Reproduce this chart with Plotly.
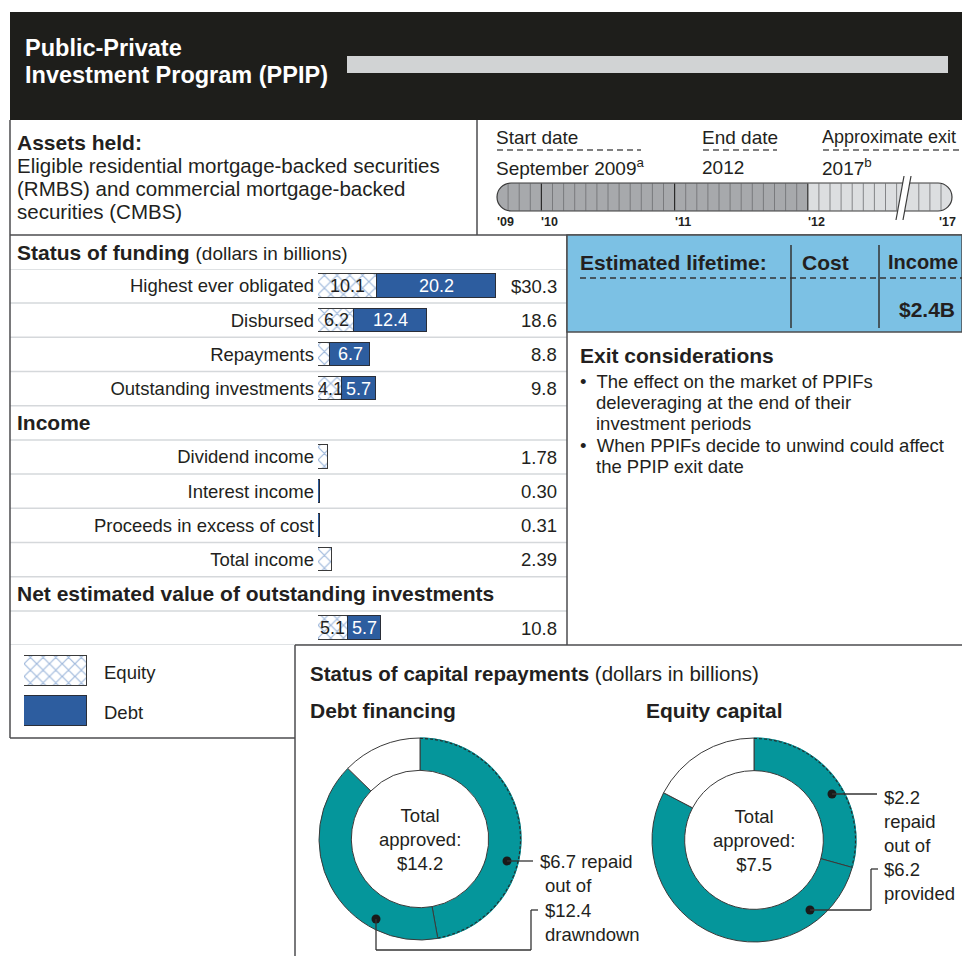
import math
import plotly.graph_objects as go

# ---------------- data ----------------
funding_labels = ["Highest ever obligated", "Disbursed", "Repayments", "Outstanding investments"]
funding_equity = [10.1, 6.2, 2.1, 4.1]
funding_debt = [20.2, 12.4, 6.7, 5.7]
funding_equity_text = ["10.1", "6.2", None, "4.1"]
funding_debt_text = ["20.2", "12.4", "6.7", "5.7"]
funding_totals = ["$30.3", "18.6", "8.8", "9.8"]

income_labels = ["Dividend income", "Interest income", "Proceeds in excess of cost", "Total income"]
income_equity = [1.78, None, None, 2.39]
income_debt = [None, 0.30, 0.31, None]
income_totals = ["1.78", "0.30", "0.31", "2.39"]

net_equity = [5.1]
net_debt = [5.7]
net_totals = ["10.8"]

debt_approved, debt_drawn, debt_repaid = 14.2, 12.4, 6.7
equity_approved, equity_provided, equity_repaid = 7.5, 6.2, 2.2

timeline_year_labels = ["'09", "'10", "'11", "'12", "'17"]
timeline_year_slots = [0, 4, 16, 28, 41]   # month slots from Sept 2009

# ---------------- style ----------------
FONT = "Liberation Sans, Arial, sans-serif"
TXT = "#231f20"
DEBT = "#2d5d9f"
HATCH = "#3f72b8"
TEAL = "#05969b"
LINE = "#4d4d4f"
LIGHT = "#d5d8db"
W, H = 962, 956
FS = 18.5     # body text
FB = 21       # bold headers

fig = go.Figure()
shapes, annotations = [], []


def txt(x, y, s, size=FS, bold=False, color=TXT, anchor="left", xref="x", yref="y"):
    annotations.append(dict(x=x, y=y, xref=xref, yref=yref, text=("<b>%s</b>" % s) if bold else s,
                            showarrow=False, xanchor=anchor, yanchor="middle",
                            font=dict(size=size, color=color, family=FONT)))


def rect(x0, y0, x1, y1, fill, line=None, lw=0, xref="x", yref="y"):
    shapes.append(dict(type="rect", x0=x0, y0=y0, x1=x1, y1=y1, xref=xref, yref=yref,
                       fillcolor=fill, line=dict(color=line or fill, width=lw), layer="above"))


def ln(x0, y0, x1, y1, color=LINE, w=1.5, dash="solid", xref="x", yref="y"):
    shapes.append(dict(type="line", x0=x0, y0=y0, x1=x1, y1=y1, xref=xref, yref=yref,
                       line=dict(color=color, width=w, dash=dash), layer="above"))


# pixel overlay axis (x / y)
fig.add_trace(go.Scatter(x=[0], y=[0], xaxis="x", yaxis="y", mode="markers",
                         marker=dict(opacity=0, size=1), showlegend=False, hoverinfo="skip"))

# ---------------- funding bar chart (x2 / y2) ----------------
rows = [0, 1, 2, 3] + [5, 6, 7, 8] + [10]
x_eq = funding_equity + income_equity + net_equity
t_eq = funding_equity_text + [None] * 4 + [str(v) for v in net_equity]
x_db = funding_debt + income_debt + net_debt
t_db = funding_debt_text + [None] * 4 + [str(v) for v in net_debt]

hatch = dict(shape="x", fgcolor=HATCH, bgcolor="white", size=9, solidity=0.25)

fig.add_trace(go.Bar(
    y=rows, x=x_eq, orientation="h", xaxis="x2", yaxis="y2", width=0.68,
    marker=dict(color="white", line=dict(color="#3a3a3a", width=1), pattern=hatch),
    showlegend=False, hoverinfo="skip"))
fig.add_trace(go.Bar(
    y=rows, x=x_db, orientation="h", xaxis="x2", yaxis="y2", width=0.68,
    marker=dict(color=DEBT, line=dict(color="#2a2e38", width=1)),
    showlegend=False, hoverinfo="skip"))

# value labels centred in each segment, positioned through the x2/y2 axes
for r, e, d, te, td in zip(rows, x_eq, x_db, t_eq, t_db):
    e0 = e or 0
    if te:
        annotations.append(dict(x=e0 / 2, y=r, xref="x2", yref="y2", text=te, showarrow=False,
                                xanchor="center", yanchor="middle",
                                font=dict(size=18, color=TXT, family=FONT)))
    if td:
        annotations.append(dict(x=e0 + d / 2, y=r, xref="x2", yref="y2", text=td, showarrow=False,
                                xanchor="center", yanchor="middle",
                                font=dict(size=18, color="white", family=FONT)))

row_vals = [0, 1, 2, 3, 5, 6, 7, 8]
row_text = funding_labels + income_labels
totals = funding_totals + income_totals + net_totals
for r, t in zip(rows, totals):
    txt(559 / W, r, t, anchor="right", xref="paper", yref="y2")

# row separators
for i in range(12):
    ln(10, i - 0.5, 567, i - 0.5, color=LIGHT, w=1.5, yref="y2")

txt(15, 4, "Income", size=FB, bold=True, xref="x", yref="y2")
txt(15, 9, "Net estimated value of outstanding investments", size=FB, bold=True, xref="x", yref="y2")
txt(15, 252, "<b>Status of funding</b> <span style='font-size:19px'>(dollars in billions)</span>", size=FB)

# ---------------- legend swatches (x3 / y3) ----------------
fig.add_trace(go.Bar(y=[0], x=[1], orientation="h", xaxis="x3", yaxis="y3", width=0.75,
                     marker=dict(color="white", line=dict(color="#3a3a3a", width=1), pattern=hatch),
                     showlegend=False, hoverinfo="skip"))
fig.add_trace(go.Bar(y=[1], x=[1], orientation="h", xaxis="x3", yaxis="y3", width=0.75,
                     marker=dict(color=DEBT, line=dict(color="#2a2e38", width=1)),
                     showlegend=False, hoverinfo="skip"))
txt(102, 672, "Equity")
txt(102, 712, "Debt")

# ---------------- donuts ----------------
PIES = [(420, 839, 101, debt_approved, debt_drawn, debt_repaid),
        (754, 840, 102, equity_approved, equity_provided, equity_repaid)]


def dom(cx, cy, r):
    return dict(x=[(cx - r) / W, (cx + r) / W], y=[1 - (cy + r) / H, 1 - (cy - r) / H])


for cx, cy, rad, total, drawn, repaid in PIES:
    fig.add_trace(go.Pie(values=[repaid, drawn - repaid, total - drawn],
                         marker=dict(colors=[TEAL, TEAL, "white"], line=dict(color="#3a3a3a", width=1)),
                         hole=0.68, sort=False, direction="clockwise", rotation=0, textinfo="none",
                         hoverinfo="skip", showlegend=False, domain=dom(cx, cy, rad)))
    # dashed outer edge of the repaid arc
    ang = 2 * math.pi * repaid / total
    n = 60
    pts = [(cx + (rad - 0.5) * math.sin(ang * i / n), cy - (rad - 0.5) * math.cos(ang * i / n)) for i in range(n + 1)]
    path = "M " + " L ".join("%.2f,%.2f" % p for p in pts)
    shapes.append(dict(type="path", xref="x", yref="y", path=path, layer="above",
                       line=dict(color=TEAL, width=2.2)))
    shapes.append(dict(type="path", xref="x", yref="y", path=path, layer="above",
                       line=dict(color="#2a2a2a", width=1.1, dash="3px,2px")))

# ---------------- header ----------------
rect(10, 12, 962, 120, "#1e1e1b")
rect(347, 56, 948, 73, "#d1d3d4")
txt(23, 48, "Public-Private", size=23.5, bold=True, color="white")
txt(23, 75, "Investment Program (PPIP)", size=23.5, bold=True, color="white")

# ---------------- frame lines ----------------
ln(10, 120, 10, 738)
ln(10, 235, 962, 235)
ln(477, 120, 477, 235)
ln(567, 235, 567, 645)
ln(10, 738, 295, 738)
ln(295, 645, 295, 956)
ln(295, 645, 962, 645)

# ---------------- assets held ----------------
txt(15, 142, "Assets held:", size=FB, bold=True)
txt(15, 165, "Eligible residential mortgage-backed securities", size=20.5)
txt(15, 188, "(RMBS) and commercial mortgage-backed", size=20.5)
txt(15, 211, "securities (CMBS)", size=20.5)

# ---------------- timeline ----------------
txt(494, 137, "Start date", size=19)
txt(700, 137, "End date", size=19)
txt(820, 137, "Approximate exit", size=18)
ln(497, 150, 641, 150, color="#555", w=1.3, dash="6px,4px")
ln(703, 150, 777, 150, color="#555", w=1.3, dash="6px,4px")
ln(823, 150, 962, 150, color="#555", w=1.3, dash="6px,4px")
txt(494, 167, "September 2009<sup>a</sup>", size=19)
txt(700, 167, "2012", size=19)
txt(820, 167, "2017<sup>b</sup>", size=19)

MW = 11.1
X0 = 497


def mx(m):
    return X0 + m * MW


top, bot = 183, 211
r = 14
k = 0.5523 * r
xd = mx(28)
xend = 952
shapes.append(dict(type="path", xref="x", yref="y", layer="above",
                   path="M %f,%f L %f,%f L %f,%f L %f,%f C %f,%f %f,%f %f,%f C %f,%f %f,%f %f,%f Z" % (
                       X0 + r, top, xd, top, xd, bot, X0 + r, bot,
                       X0 + r - k, bot, X0, bot - r + k, X0, bot - r,
                       X0, top + r - k, X0 + r - k, top, X0 + r, top),
                   fillcolor="#a7a9ac", line=dict(width=0)))
shapes.append(dict(type="path", xref="x", yref="y", layer="above",
                   path="M %f,%f L %f,%f C %f,%f %f,%f %f,%f C %f,%f %f,%f %f,%f L %f,%f Z" % (
                       xd, top, xend - r, top,
                       xend - r + k, top, xend, top + r - k, xend, top + r,
                       xend, bot - r + k, xend - r + k, bot, xend - r, bot,
                       xd, bot),
                   fillcolor="#dcdee0", line=dict(width=0)))
for m in range(1, 41):
    if m == 37:
        continue
    year = m in timeline_year_slots
    ln(mx(m), top + 0.5, mx(m), bot - 0.5, color="#2b2b2b" if year else "#6d6e71", w=1.2 if year else 0.8)
shapes.append(dict(type="path", xref="x", yref="y", layer="above",
                   path="M %f,%f L %f,%f C %f,%f %f,%f %f,%f C %f,%f %f,%f %f,%f L %f,%f "
                        "C %f,%f %f,%f %f,%f C %f,%f %f,%f %f,%f Z" % (
                       X0 + r, top, xend - r, top,
                       xend - r + k, top, xend, top + r - k, xend, top + r,
                       xend, bot - r + k, xend - r + k, bot, xend - r, bot,
                       X0 + r, bot,
                       X0 + r - k, bot, X0, bot - r + k, X0, bot - r,
                       X0, top + r - k, X0 + r - k, top, X0 + r, top),
                   fillcolor="rgba(0,0,0,0)", line=dict(color="#3a3a3a", width=1.2)))
shapes.append(dict(type="path", xref="x", yref="y", layer="above",
                   path="M 896,220 L 904,176 L 911,176 L 903,220 Z", fillcolor="white", line=dict(width=0)))
ln(896, 220, 904, 176, color="#3a3a3a", w=1.2)
ln(903, 220, 911, 176, color="#3a3a3a", w=1.2)
for lab, s in zip(timeline_year_labels, timeline_year_slots):
    if s == timeline_year_slots[-1]:
        txt(958, 222, lab, size=12.5, bold=True, anchor="right")
    else:
        txt(mx(s) - 2, 222, lab, size=12.5, bold=True)

# ---------------- estimated lifetime box ----------------
rect(567, 235, 962, 332, "#7cc1e4", line=LINE, lw=1.5)
txt(578, 262, "Estimated lifetime:", size=FB, bold=True)
txt(800, 262, "Cost", size=FB, bold=True)
txt(886, 262, "Income", size=20, bold=True)
ln(580, 278, 962, 278, color="#333", w=1.3, dash="6px,4px")
ln(791, 245, 791, 328, color="#333", w=1.5)
ln(879, 245, 879, 328, color="#333", w=1.5)
txt(897, 309, "$2.4B", size=FB, bold=True)

# ---------------- exit considerations ----------------
txt(578, 355, "Exit considerations", size=FB, bold=True)
txt(578, 381, "•  The effect on the market of PPIFs")
txt(594, 402, "deleveraging at the end of their")
txt(594, 423, "investment periods")
txt(578, 445, "•  When PPIFs decide to unwind could affect")
txt(594, 466, "the PPIP exit date")

# ---------------- capital repayments ----------------
txt(308, 673, "<b>Status of capital repayments</b> (dollars in billions)", size=20.5)
txt(308, 710, "Debt financing", size=FB, bold=True)
txt(644, 710, "Equity capital", size=FB, bold=True)

for cx, cy, rad, total, drawn, repaid in PIES:
    annotations.append(dict(x=cx, y=cy, xref="x", yref="y", showarrow=False, xanchor="center", yanchor="middle",
                            text="Total<br>approved:<br>$%.1f" % total,
                            font=dict(size=FS, color=TXT, family=FONT)))


def dot(x, y):
    shapes.append(dict(type="circle", xref="x", yref="y", x0=x - 4.5, x1=x + 4.5, y0=y - 4.5, y1=y + 4.5,
                       fillcolor="#1a1a1a", line=dict(width=0), layer="above"))


# debt leaders
dot(507, 861)
ln(507, 861, 533, 861, color="#333", w=1.3)
dot(376, 919)
ln(376, 919, 376, 950, color="#333", w=1.3)
ln(376, 950, 531, 950, color="#333", w=1.3)
ln(531, 950, 531, 910, color="#333", w=1.3)
ln(531, 910, 538, 910, color="#333", w=1.3)
txt(538, 861, "$%.1f repaid" % debt_repaid)
txt(543, 885, "out of")
txt(543, 910, "$%.1f" % debt_drawn)
txt(543, 934, "drawndown")

# equity leaders
dot(832, 794)
ln(832, 794, 877, 794, color="#333", w=1.3)
dot(810, 910)
ln(810, 910, 871, 910, color="#333", w=1.3)
ln(871, 910, 871, 869, color="#333", w=1.3)
ln(871, 869, 878, 869, color="#333", w=1.3)
txt(882, 797, "$%.1f" % equity_repaid)
txt(882, 821, "repaid")
txt(882, 845, "out of")
txt(882, 869, "$%.1f" % equity_provided)
txt(882, 893, "provided")

# ---------------- layout ----------------
def py(p):
    return 1 - p / H


fig.update_layout(
    width=W, height=H, margin=dict(l=0, r=0, t=0, b=0),
    paper_bgcolor="white", plot_bgcolor="rgba(0,0,0,0)",
    barmode="stack", bargap=0, showlegend=False, hovermode=False,
    font=dict(family=FONT, color=TXT),
    xaxis=dict(domain=[0, 1], range=[0, W], visible=False, fixedrange=True),
    yaxis=dict(domain=[0, 1], range=[H, 0], visible=False, fixedrange=True),
    xaxis2=dict(domain=[318 / W, 553 / W], range=[0, 40], visible=False, anchor="y2", fixedrange=True),
    yaxis2=dict(domain=[py(645.1), py(268.9)], range=[10.5, -0.5], anchor="x2",
                tickmode="array", tickvals=row_vals, ticktext=row_text,
                tickfont=dict(size=FS, color=TXT, family=FONT), ticks="", ticklabelstandoff=3,
                showgrid=False, zeroline=False, showline=False, fixedrange=True),
    xaxis3=dict(domain=[24 / W, 87 / W], range=[0, 1], visible=False, anchor="y3", fixedrange=True),
    yaxis3=dict(domain=[py(731), py(651)], range=[1.5, -0.5], visible=False, anchor="x3", fixedrange=True),
    shapes=shapes, annotations=annotations,
)

fig.write_html("out.html")
